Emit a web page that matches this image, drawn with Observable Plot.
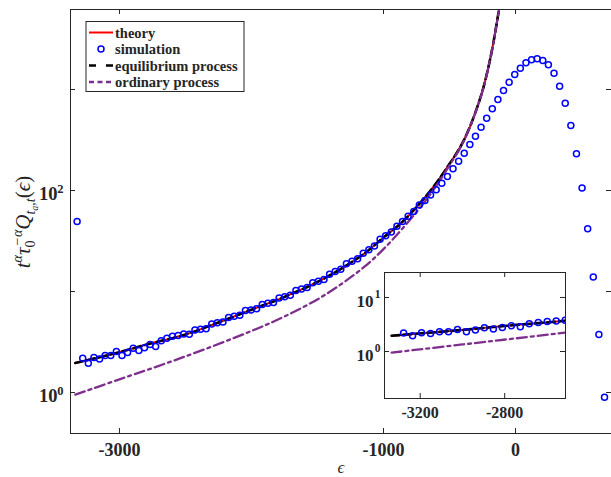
<!DOCTYPE html>
<html><head><meta charset="utf-8">
<script src="https://cdn.jsdelivr.net/npm/d3@7"></script>
<script src="https://cdn.jsdelivr.net/npm/@observablehq/plot@0.6"></script>
<style>
body{margin:0;background:#fff;}
#wrap{position:relative;width:611px;height:477px;overflow:hidden;}
#main{position:absolute;left:0;top:0;}
#inset{position:absolute;left:354px;top:270px;}
</style></head><body><div id="wrap"><div id="main"></div><div id="inset"></div></div>
<script>
// ---- data ----
const simEps = [-3321,-3278.5,-3236,-3193.5,-3151,-3108.5,-3066,-3023.5,-2981,-2938.5,-2896,-2853.5,-2811,-2768.5,-2726,-2683.5,-2641,-2598.5,-2556,-2513.5,-2471,-2428.5,-2386,-2343.5,-2301,-2258.5,-2216,-2173.5,-2131,-2088.5,-2046,-2003.5,-1961,-1918.5,-1876,-1833.5,-1791,-1748.5,-1706,-1663.5,-1621,-1578.5,-1536,-1493.5,-1451,-1408.5,-1366,-1323.5,-1281,-1238.5,-1196,-1153.5,-1111,-1068.5,-1026,-983.5,-941,-898.5,-856,-813.5,-771,-728.5,-686,-643.5,-601,-558.5,-516,-473.5,-431,-388.5,-346,-303.5,-261,-218.5,-176,-133.5,-91,-48.5,-6,36.5,79,121.5,164,206.5,249,291.5,334,376.5,419,461.5,504,546.5,589,631.5,674];
const simVal = [49.3,2.19,1.95,2.22,2.15,2.32,2.32,2.55,2.32,2.49,2.75,2.60,2.78,2.99,2.86,3.26,3.44,3.60,3.66,3.79,3.77,4.16,4.23,4.29,4.76,4.90,5.00,5.52,5.68,5.82,6.49,6.58,6.76,7.43,7.64,7.80,8.63,8.87,9.20,10.26,10.59,10.99,12.19,12.65,13.12,14.86,15.74,16.63,18.88,19.95,21.13,23.93,25.94,28.25,32.89,35.73,38.90,44.26,49.20,55.6,61.8,71.9,79.8,90.5,102,118,138,164,195,234,285,345,424,520,644,796,977,1181,1409,1626,1837,1968,2014,1937,1757,1450,1078,731,440,231,106,41.8,13.9,3.75,0.90];
const theoryEps = [-3335,-3000,-2765,-2512,-2250,-2000,-1755,-1452,-1149,-1000,-846,-644,-517,-392,-265,-189,-126,-100];
const theoryVal = [1.96,2.51,3.06,3.71,4.94,6.61,8.79,13.4,23.6,34.3,50.5,100,170,313,839,2089,6056,9500];
const eqEps = [-3335,-3000,-2765,-2512,-2250,-2000,-1755,-1452,-1149,-1000,-846,-644,-517,-392,-265,-189,-126,-100];
const eqVal = [1.96,2.51,3.06,3.71,4.94,6.61,8.79,13.4,23.6,34.3,50.5,100,170,313,839,2089,6056,9500];
const ordEps = [-3335,-3000,-2512,-2000,-1755,-1452,-1149,-1000,-846,-644,-517,-392,-265,-189,-126,-100];
const ordVal = [0.955,1.35,2.25,4.07,5.62,9.12,17.4,26.3,43.6,92,164,309,832,2080,6056,9500];
const mainXTicks = [-3000,-1000,0];
const mainYTicks = [1,10,100,1000];
const mainYLabels = [{v:1,e:"0"},{v:100,e:"2"}];
const insetXTicks = [-3200,-2800];
const insetYTicks = [1,10];
const insetYLabels = [{v:1,e:"0"},{v:10,e:"1"}];
const legendItems = ["theory","simulation","equilibrium process","ordinary process"];

// ---- tables ----
const sim = simEps.map((e,i)=>({e, v:simVal[i]}));
const theory = theoryEps.map((e,i)=>({e, v:theoryVal[i]}));
const eq = eqEps.map((e,i)=>({e, v:eqVal[i]}));
const ord = ordEps.map((e,i)=>({e, v:ordVal[i]}));

const serif = "'Liberation Serif','Times New Roman',serif";
const ink = "#262626";
const RED="#ff0000", BLUE="#0000ff", PURPLE="#7E2F8E";

function dataMarks(){
  return [
    Plot.line(theory,{x:"e",y:"v",stroke:RED,strokeWidth:2,curve:"catmull-rom",clip:true}),
    Plot.line(eq,{x:"e",y:"v",stroke:"#000",strokeWidth:2.6,strokeDasharray:"8,4",curve:"catmull-rom",clip:true}),
    Plot.line(ord,{x:"e",y:"v",stroke:PURPLE,strokeWidth:2.3,strokeDasharray:"10,4,3,4",curve:"catmull-rom",clip:true}),
    Plot.dot(sim,{x:"e",y:"v",r:3,stroke:BLUE,strokeWidth:1.5,fill:"none",clip:true})
  ];
}

const xDom=[-3371,727], yDom=[0.393,6194];
const main = Plot.plot({
  width:611, height:477, marginLeft:70, marginRight:0, marginTop:9, marginBottom:44,
  style:{fontFamily:serif, background:"transparent", overflow:"visible", color:ink},
  x:{domain:xDom}, y:{type:"log", domain:yDom},
  marks:[
    ...dataMarks(),
    Plot.ruleY([yDom[0]],{stroke:ink,strokeWidth:1}),
    Plot.ruleY([yDom[1]],{stroke:ink,strokeWidth:1}),
    Plot.ruleX([xDom[0]],{stroke:ink,strokeWidth:1}),
    Plot.tickX(mainXTicks,{x:d=>d,insetTop:419,stroke:ink}),
    Plot.tickX(mainXTicks,{x:d=>d,insetBottom:419,stroke:ink}),
    Plot.tickY(mainYTicks,{y:d=>d,insetRight:536,stroke:ink}),
    Plot.tickY(mainYTicks,{y:d=>d,insetLeft:536,stroke:ink}),
    Plot.axisX(mainXTicks,{tickSize:0,tickPadding:10,fontSize:18,fontWeight:"bold",tickFormat:d=>String(d),label:null,fill:ink}),
    Plot.axisY([],{label:null,tickSize:0}),
    Plot.text(mainYLabels,{y:"v",frameAnchor:"left",text:()=>"10",textAnchor:"end",dx:-13,dy:4,fontSize:18.5,fontWeight:"bold",fill:ink}),
    Plot.text(mainYLabels,{y:"v",frameAnchor:"left",text:"e",textAnchor:"end",dx:-7,dy:-2,fontSize:12.5,fontWeight:"bold",fill:ink}),
    Plot.text(["ϵ"],{frameAnchor:"bottom",dy:39,text:d=>d,fontSize:17,fontStyle:"italic",fill:ink})
  ]
});
document.getElementById("main").appendChild(main);

// y label and legend
const svg = d3.select(main);
const yl = svg.append("text").attr("transform","translate(30,222) rotate(-90)")
  .attr("text-anchor","middle").attr("fill",ink)
  .style("font-family",serif).style("font-size","21px");
yl.append("tspan").style("font-style","italic").text("t");
yl.append("tspan").style("font-style","italic").style("font-size","14px").attr("dy",-8).text("α");
yl.append("tspan").style("font-style","italic").attr("dy",8).text("τ");
yl.append("tspan").style("font-size","14px").attr("dy",5).text("0");
yl.append("tspan").style("font-style","italic").style("font-size","14px").attr("dx",-6).attr("dy",-13).text("−α");
yl.append("tspan").style("font-style","italic").attr("dy",8).text("Q");
yl.append("tspan").style("font-style","italic").style("font-size","14px").attr("dy",5).text("t");
yl.append("tspan").style("font-style","italic").style("font-size","10px").attr("dy",3).text("a");
yl.append("tspan").style("font-size","14px").attr("dy",-3).text(",");
yl.append("tspan").style("font-style","italic").style("font-size","14px").text("t");
yl.append("tspan").attr("dy",-5).text("(");
yl.append("tspan").style("font-style","italic").text("ϵ");
yl.append("tspan").text(")");

const lg = svg.append("g");
lg.append("rect").attr("x",86).attr("y",21.5).attr("width",158).attr("height",70)
  .attr("fill","#fff").attr("stroke",ink).attr("stroke-width",1);
const rows=[32.5,49,65.5,82];
lg.append("line").attr("x1",89).attr("x2",113).attr("y1",rows[0]).attr("y2",rows[0]).attr("stroke",RED).attr("stroke-width",2);
lg.append("circle").attr("cx",101).attr("cy",rows[1]).attr("r",3).attr("fill","none").attr("stroke",BLUE).attr("stroke-width",1.5);
lg.append("line").attr("x1",89).attr("x2",113).attr("y1",rows[2]).attr("y2",rows[2]).attr("stroke","#000").attr("stroke-width",2.6).attr("stroke-dasharray","7,10");
lg.append("line").attr("x1",89).attr("x2",113).attr("y1",rows[3]).attr("y2",rows[3]).attr("stroke",PURPLE).attr("stroke-width",2.3).attr("stroke-dasharray","5,3.5");
legendItems.forEach((t,i)=>{
  lg.append("text").attr("x",115).attr("y",rows[i]+5).attr("fill",ink).attr("text-anchor","start")
    .style("font-family",serif).style("font-weight","bold").style("font-size","14.5px").text(t);
});

// ---- inset ----
const ixDom=[-3369,-2512], iyDom=[0.135,29];
const inset = Plot.plot({
  width:30+181+6, height:2+126+28, marginLeft:30, marginRight:6, marginTop:2, marginBottom:28,
  style:{fontFamily:serif, background:"transparent", overflow:"visible", color:ink},
  x:{domain:ixDom}, y:{type:"log", domain:iyDom},
  marks:[
    Plot.frame({fill:"#fff",stroke:"none"}),
    ...dataMarks(),
    Plot.frame({stroke:ink,strokeWidth:1}),
    Plot.tickX(insetXTicks,{x:d=>d,insetTop:121,stroke:ink}),
    Plot.tickX(insetXTicks,{x:d=>d,insetBottom:121,stroke:ink}),
    Plot.tickY(insetYTicks,{y:d=>d,insetRight:176,stroke:ink}),
    Plot.tickY(insetYTicks,{y:d=>d,insetLeft:176,stroke:ink}),
    Plot.axisX(insetXTicks,{tickSize:0,tickPadding:8,fontSize:16,fontWeight:"bold",tickFormat:d=>String(d),label:null,fill:ink}),
    Plot.axisY([],{label:null,tickSize:0}),
    Plot.text(insetYLabels,{y:"v",frameAnchor:"left",text:()=>"10",textAnchor:"end",dx:-11,dy:4,fontSize:17,fontWeight:"bold",fill:ink}),
    Plot.text(insetYLabels,{y:"v",frameAnchor:"left",text:"e",textAnchor:"end",dx:-4,dy:-3,fontSize:11.5,fontWeight:"bold",fill:ink})
  ]
});
document.getElementById("inset").appendChild(inset);
</script></body></html>
